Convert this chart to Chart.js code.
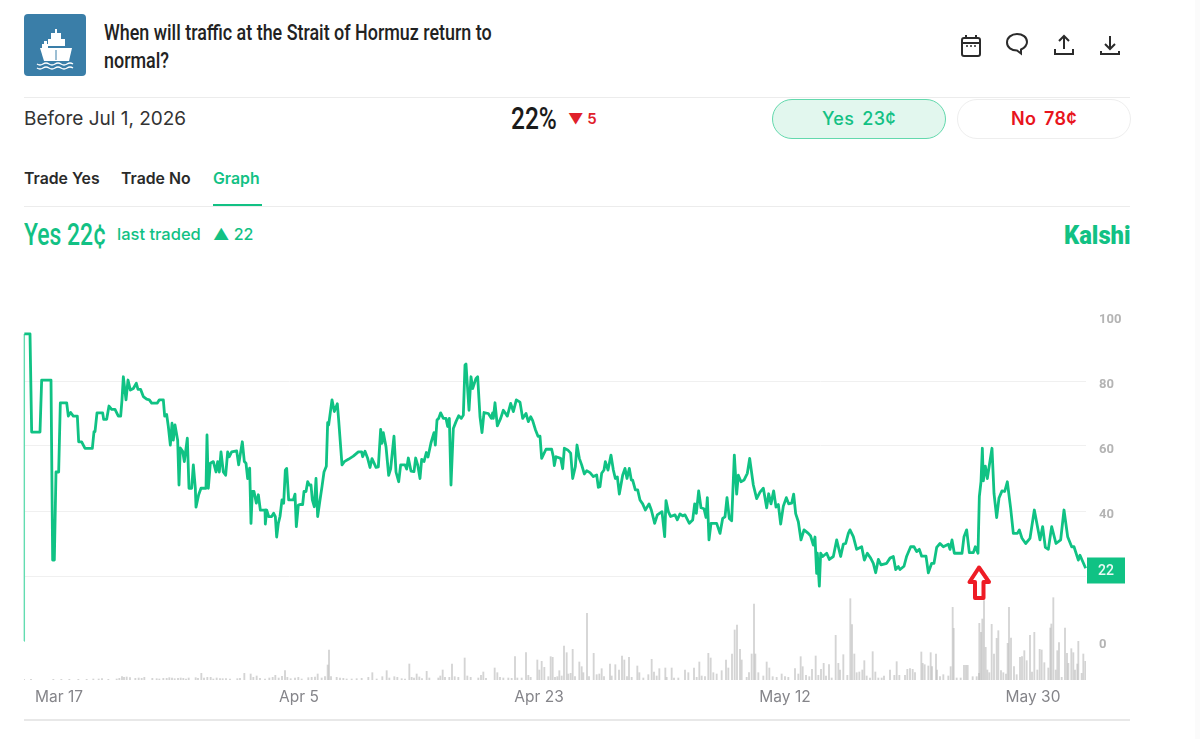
<!DOCTYPE html>
<html><head><meta charset="utf-8">
<script src="https://cdn.jsdelivr.net/npm/chart.js@4"></script>
<style>
html,body{margin:0;padding:0;background:#fff;width:1200px;height:739px;overflow:hidden}
body{font-family:Inter,Roboto,sans-serif;color:#222;position:relative}
.a{position:absolute;white-space:nowrap;line-height:1}
.c{font-family:Roboto,sans-serif;transform-origin:left center;display:block}
.rule{position:absolute;height:1px;background:#ececec;left:24px;width:1106px}
.pill{position:absolute;box-sizing:border-box;height:40px;width:174px;top:99px;border-radius:20px;text-align:center;font:500 18px/37px Inter,sans-serif;word-spacing:3px;letter-spacing:.3px}
canvas{position:absolute;left:0;top:300px}
</style></head><body>
<svg class="a" style="left:24px;top:14px" width="62" height="62" viewBox="0 0 62 62">
<rect width="62" height="62" rx="4" fill="#3a7ea8"/>
<g fill="#fff"><rect x="31" y="15" width="2" height="5"/><rect x="27" y="19" width="10" height="6"/><rect x="24" y="25" width="17" height="7"/><rect x="20" y="27" width="3" height="3"/><rect x="18" y="30" width="6" height="4"/>
<path d="M16 34H48L45 47H20Z"/></g><path d="M32 36V46" stroke="#3a7ea8" stroke-width="1"/>
<path d="M13 50q3 2 6 0t6 0t6 0t6 0t6 0t6 0M13 54q3 2 6 0t6 0t6 0t6 0t6 0t6 0" stroke="#fff" stroke-width="1.3" fill="none"/></svg>
<div class="a c" style="left:104px;top:22px;font-size:22px;font-weight:500;transform:scaleX(.814);color:#222">When will traffic at the Strait of Hormuz return to</div>
<div class="a c" style="left:104px;top:50px;font-size:22px;font-weight:500;transform:scaleX(.814);color:#222">normal?</div>
<svg class="a" style="left:958px;top:32px" width="165" height="28" viewBox="0 0 165 28" fill="none" stroke="#2b2b2b" stroke-width="2">
<rect x="4" y="6" width="18" height="18" rx="2"/><path d="M4 11H22M8 3V7M18 3V7"/><path d="M8 14h2M12 14h2M16 14h2" stroke-width="1.5"/>
<path d="M59 2c-5.500 0-10 3.500-10 8.500c0 5 4.500 8 10 8l4 3v-4c3-1.500 6-4 6-7.500c0-5-4.500-8-10-8z"/>
<path d="M106 17V4M101 9l5-5l5 5M97 17v5h18v-5"/><path d="M152 4V17M147 12l5 5l5-5M143 19v3h18v-3"/></svg>
<div class="rule" style="top:97px"></div>
<div class="a" style="left:24px;top:109px;font-size:19px;color:#333">Before Jul 1, 2026</div>
<div class="a c" style="left:511px;top:103px;font-size:31px;font-weight:500;transform:scaleX(.79);color:#1b1b1b">22%</div>
<div class="a" style="left:568px;top:111px;font-size:15px;font-weight:600;color:#e0202a">▼ 5</div>
<div class="pill" style="left:772px;background:#e2f7ee;border:1.500px solid #63d9ad;color:#12c184">Yes 23¢</div>
<div class="pill" style="left:957px;background:#fff;border:1.500px solid #eeeeee;color:#e8141c;font-weight:600">No 78¢</div>
<div class="a" style="left:24px;top:171px;font-size:15.800px;font-weight:600;color:#2a2a2a">Trade Yes</div>
<div class="a" style="left:121px;top:171px;font-size:15.800px;font-weight:600;color:#2a2a2a">Trade No</div>
<div class="a" style="left:213px;top:171px;font-size:15.800px;font-weight:600;color:#12c184">Graph</div>
<div class="a" style="left:213px;top:204px;width:49px;height:2px;background:#12c184"></div>
<div class="rule" style="top:206px"></div>
<div class="a c" style="left:24px;top:219px;font-size:31px;font-weight:500;transform:scaleX(.74);color:#12c184">Yes 22¢</div>
<div class="a" style="left:117px;top:226px;font-size:16.500px;font-weight:500;color:#12c184">last traded</div>
<div class="a" style="left:213px;top:226px;font-size:16px;font-weight:500;color:#12c184">▲ 22</div>
<div class="a c" style="left:1064px;top:222px;font-size:26px;font-weight:900;transform:scaleX(.915);color:#12c184">Kalshi</div>
<canvas id="chart" width="1200" height="420"></canvas>
<div class="rule" style="top:719px;height:2px;background:#e8e8e8"></div>
<svg class="a" style="left:966px;top:562px" width="28" height="42" viewBox="0 0 28 42"><path d="M13 5.500L3.500 20H9V36H17.500V20H23Z" fill="#fff" stroke="#ee1c25" stroke-width="4" stroke-linejoin="round"/></svg>
<div class="a" style="left:1195px;top:0;width:5px;height:739px;background:#fbfbfb"></div>
<script>
const axisDates=["Mar 17","Apr 5","Apr 23","May 12","May 30"];
const axisDateTicks=[177,897,1617,2355,3099];
const priceGrid=[20,40,60,80];
const priceLabels=[0,40,60,80,100];
const lastPrice=22;
const priceTicks=[
72,73,90,95,120,125,153,158,163,168,
176,181,200,205,212,220,232,236,245,255,
277,282,285,291,308,311,320,327,335,345,
355,362,366,370,378,384,391,400,409,414,
422,430,440,448,455,472,478,490,494,500,
505,511,516,520,525,533,537,541,548,553,
562,567,575,580,586,588,596,603,618,621,
625,631,640,648,653,658,663,670,677,683,
688,695,710,716,722,727,733,738,743,749,
753,757,762,769,775,781,795,796,800,806,
815,821,826,830,835,840,846,851,856,860,
866,880,885,889,895,
900,908,912,918,923,928,933,937,943,948,
953,960,966,972,979,983,986,996,1003,1012,
1016,1026,1033,1045,1060,1075,1085,1088,1095,1103,
1110,1116,1128,1135,1142,1146,1150,1158,1166,1172,
1182,1188,1196,1202,1215,1220,1225,1233,1242,1247,
1253,1260,1265,1272,1279,1284,1293,1302,1306,1311,
1316,1322,1330,1338,1343,1348,1353,1360,1368,1376,
1384,1390,1395,1398,1407,1413,1418,1428,1433,1440,
1446,1452,1465,1474,1478,1480,1485,1492,1502,1510,
1522,1532,1540,1549,1560,1568,1578,1585,1592,1598,
1606,1614,1620,1625,1638,1655,1660,1663,1668,1682,
1688,1693,1703,1712,1718,1726,1731,1738,1745,1753,
1760,1770,1780,1790,1795,
1800,1805,1812,1816,1824,1833,1840,1846,1852,1858,
1868,1875,1881,1888,1894,1898,1906,1913,1920,1928,
1936,1947,1954,1964,1972,1986,1994,1998,2005,2012,
2025,2032,2040,2048,2055,2068,2078,2084,2089,2096,
2103,2112,2118,2122,2127,2133,2150,2160,2168,2175,
2181,2188,2195,2203,2210,2215,2223,2232,2242,2249,
2260,2270,2280,2290,2300,2306,2313,2321,2328,2335,
2342,2350,2359,2366,2375,2381,2387,2395,2403,2412,
2425,2432,2440,2445,2450,2452,2458,2462,2468,2480,
2488,2500,2510,2522,2530,2537,2545,2550,2560,2570,
2585,2593,2602,2612,2620,2627,2635,2643,2660,2670,
2680,2687,2695,
2700,2712,2720,2732,2742,2750,2758,2765,2778,2785,
2795,2802,2810,2820,2830,2845,2850,2856,2863,2886,
2892,2900,2908,2920,2926,2934,2938,2943,2947,2950,
2956,2962,2968,2976,2982,2990,2997,3006,3014,3022,
3032,3040,3052,3058,3066,3077,3090,3103,3120,3128,
3136,3145,3155,3168,3182,3192,3203,3215,3222,3235,
3240,3257];
const priceCents=[
0,94.5,94.5,64.3,64.3,80.3,80.3,24.9,24.9,52,
52,73.3,73.3,69.2,70.3,69.2,69.2,61.3,61.3,59.3,
59.3,64.4,64.4,70.2,70.2,68.2,68.2,72.3,71.3,71.3,
69.2,69.2,74.2,81.3,74.2,80.3,77.2,77.7,79.3,77.4,
77.4,75.2,74.4,74.2,73.2,73.2,74.2,74.2,69.2,69.7,
66,60.3,67,61.8,66.5,61.8,48,59.4,58.4,55.2,
62.4,47,47,54.2,47,41.2,45,47,47,63.4,
47,54.7,55.2,52,55.2,52,58.2,52,51,58.2,
56.7,58.2,58.5,54.2,58.2,61.3,55.2,54.7,50,53.2,
36.2,46,46,42.4,45,40.3,40.3,36,40.3,38.3,
38.3,39.3,38.3,32,36.2,38.3,43.4,42.4,52.6,53.1,
43.4,43.4,45.2,35.2,41.8,
42,42,46,46,49,48,48,43.4,41.3,50,
38.3,43.4,47.5,52,53.8,67.2,66.5,74.2,70.6,73,
68,54.2,55.2,55.9,56.9,58.2,58.2,56.7,58.4,56.2,
53.4,56.1,53.4,53.6,65.1,60.8,64.1,59.8,51,53,
63,52,49,54.2,54.2,52.9,56.3,52.3,52.1,56.3,
54.2,50,55.9,55.2,58,56.6,61,64.1,60.3,68,
68.5,70.2,68.5,68.5,66,68.5,48,65.4,67.5,69.3,
68.5,69.5,84.9,85.2,71,81.3,77.7,80.8,81.3,69,
64.1,70.3,70,68.5,70.2,68.5,73.3,66.2,68.5,71,
69.2,73.1,70.6,74.2,73.5,68.5,70,67.5,69,67.8,
65.1,63,63,56.2,59,59,56.7,54,56.7,56.2,
53,59.3,58.8,57.8,50,53.6,60.3,56.2,54.2,51.4,
52.4,51.8,50.6,51.1,47.3,
47.5,51.6,52.6,55.2,52.6,57.2,52.6,50,50.5,45.2,
51,53.1,50,53.1,49.5,49.5,46.5,46.5,43.4,42.2,
40.3,42.2,40.3,36.2,38.8,39.8,32.1,43.2,39.8,38.3,
38.8,37.3,39.1,38.5,38.8,36.2,37.2,42.2,39.3,46.2,
41,40.7,38,44.1,31.1,36.2,36.2,33.1,37.7,38.2,
44.1,37.7,37,57.2,45.2,51,49,49.5,51.6,56.2,
48,43.8,45.8,47,41,45.3,42.2,46.2,41.2,42,
36,41.5,44.1,42.2,42.4,45.2,39.2,36.7,31.1,34.2,
33.1,32.3,29.5,32,20.8,27,16.9,27,26,27,
25.1,26,31.1,26,29.8,30,33.1,34.2,32.1,28.2,
29,24.9,27,25.5,23.9,21,25.1,23.4,23.9,25.5,
26,22,22.9,
22,23,26.1,29,29,27.5,28.2,26.1,26.1,21,
23.9,23.9,28.8,30,29,29.8,28.2,31.1,27,27,
32.1,34.2,27.2,27.2,29,27,44.4,49,59.3,49.3,
53.8,50,54.1,59.3,45.4,38,44,46.2,46,49,
40.8,33.1,33.1,34.2,31.6,30,31.6,40.3,31.1,35.2,
28.8,28.2,35.2,30,31.1,40.3,32.1,29,29,24.9,
26.4,22.4];
const volumeTicks=[
72,93,160,184,208,235,260,280,296,306,
325,350,358,366,372,380,390,406,416,425,
433,457,470,478,490,500,508,516,524,534,
542,550,558,566,587,594,604,612,622,632,
640,650,660,668,678,690,712,720,733,752,
760,770,780,795,808,818,826,836,846,855,
862,872,885,895,905,925,935,945,953,965,
975,983,987,993,1010,1020,1030,1040,1055,1070,
1085,1105,1117,1130,1147,1160,1168,1183,1192,
1205,1215,1228,1235,1242,1250,1258,1266,1280,1288,
1315,1321,1328,1335,1348,1356,1364,1375,1394,1402,
1412,1435,1443,1450,1458,1484,1492,1500,1510,1525,
1535,1545,1552,1565,1578,1585,1592,1612,1618,1625,
1633,1645,1652,1658,1665,1672,1678,1685,1692,1700,
1705,1712,1718,1725,1738,1745,1750,1761,1767,1781,
1790,1798,1805,1812,1830,1835,1846,1857,1866,1873,
1881,1887,1895,1912,1918,1930,1945,1955,1962,1970,
1978,1996,2000,2015,2022,2035,2055,2065,2082,2090,
2098,2105,2115,2125,2132,2140,2150,2165,2178,2185,
2196,2204,2211,2220,2225,2240,2247,2255,2262,2266,
2275,2290,2300,2308,2318,2330,2345,2355,2365,2385,2395,
2402,2408,2418,2428,2436,2447,2455,2463,2471,2478,
2487,2495,2507,2515,2520,2530,2542,2551,2556,2563,
2570,2578,2587,2593,2600,2610,2618,2626,2635,2645,
2652,2670,2683,2690,2698,2715,2722,2730,2738,2745,
2764,2768,2774,2785,2792,2796,2808,2811,2820,2830,
2845,2852,2858,2861,2870,2882,2892,2898,2903,2918,
2930,2937,2938,2943,2947,2952,2957,2962,2968,2975,
2982,2990,2995,3003,3010,3018,3023,3027,3033,3042,
3050,3060,3066,3073,3080,3090,3096,3103,3112,3119,
3125,3133,3145,3151,3154,3160,3167,3172,3177,3185,
3195,3201,3205,3214,3220,3225,3232,3235,3245,3250,3256];
const volumeContracts=[
2,2,2,2,2,2,2,3,3,4,
2,3,5,10,8,9,7,5,6,5,
8,5,4,3,5,5,7,6,4,5,
6,5,3,6,7,5,20,6,8,8,
3,6,4,4,4,3,4,5,20,18,
8,12,5,3,6,8,14,6,11,28,
8,4,6,8,3,7,8,9,18,6,
10,45,90,10,8,6,5,3,3,4,
5,8,22,3,10,28,6,10,8,
4,3,48,8,6,18,9,4,26,6,
6,12,30,8,8,48,10,8,66,12,
8,6,14,24,5,36,22,8,6,6,
5,70,6,6,82,14,8,60,30,56,
38,10,70,68,8,10,28,12,102,82,
18,20,92,10,54,40,22,200,10,80,
16,18,34,10,48,12,46,30,72,60,
10,68,8,42,22,6,16,62,24,12,
34,36,8,36,6,6,30,22,36,8,
54,12,10,80,66,22,18,28,60,36,
78,150,165,92,60,8,22,78,228,78,
22,12,54,36,10,8,18,10,8,34,18,
70,40,14,10,32,72,14,32,50,12,
46,6,134,50,30,76,14,244,166,78,
22,24,30,58,12,6,85,24,6,6,
12,30,14,55,14,14,32,34,32,22,
84,50,46,42,82,40,78,30,10,16,
12,40,218,155,6,6,44,44,44,10,
10,20,170,143,183,238,98,30,22,167,
78,125,148,28,22,18,110,218,126,40,
16,68,70,88,58,134,24,143,30,92,
90,52,36,156,168,247,30,88,112,8,
156,80,50,94,82,30,48,116,20,78,56];

const GREEN='#10c284';
const lastBox={id:'lastBox',afterDraw(c){
  const y=c.scales.y.getPixelForValue(lastPrice),x=c.chartArea.right+1,g=c.ctx;
  g.save();g.fillStyle=GREEN;g.fillRect(x,y-12,38,26);
  g.fillStyle='#eafaf4';g.font='500 14px Roboto, sans-serif';g.textAlign='center';g.textBaseline='middle';
  g.fillText(String(lastPrice),x+19,y+1.5);g.restore();
}};
new Chart(document.getElementById('chart'),{
  data:{datasets:[
    {type:'line',order:1,yAxisID:'y',clip:false,
     data:priceTicks.map((x,i)=>({x,y:priceCents[i]})),
     borderColor:GREEN,borderWidth:2.8,pointRadius:0,tension:0,borderJoinStyle:'round',
     segment:{borderColor:c=>c.p0DataIndex===0?'#62dcb0':undefined,borderWidth:c=>c.p0DataIndex===0?1.4:undefined}},
    {type:'bar',order:2,yAxisID:'yVol',
     data:volumeTicks.map((x,i)=>({x,y:volumeContracts[i]})),
     backgroundColor:'rgba(185,185,185,.62)',barThickness:1.2}
  ]},
  options:{
    responsive:false,animation:false,events:[],
    layout:{padding:{left:24,top:16,right:0,bottom:0}},
    plugins:{legend:{display:false},tooltip:{enabled:false}},
    scales:{
      x:{type:'linear',min:72,max:3258,offset:false,
        afterBuildTicks:s=>{s.ticks=axisDateTicks.map(value=>({value}))},
        afterFit:s=>{s.height=40;s.paddingLeft=0;s.paddingRight=0},
        grid:{display:false},border:{display:false},
        ticks:{autoSkip:false,maxRotation:0,padding:0,color:'#85858a',font:{family:'Inter',size:15.5},
          callback:v=>axisDates[axisDateTicks.indexOf(v)]}},
      y:{position:'right',min:-12,max:100,
        afterBuildTicks:s=>{s.ticks=priceGrid.map(value=>({value}))},
        afterFit:s=>{s.width=0;s.paddingTop=0;s.paddingBottom=0},
        grid:{color:'#f0f0f0',lineWidth:1,drawTicks:false},border:{display:false},
        ticks:{display:false}},
      yLabels:{position:'right',min:-11,max:101,
        afterBuildTicks:s=>{s.ticks=priceLabels.map(value=>({value}))},
        afterFit:s=>{s.width=114;s.paddingTop=0;s.paddingBottom=0},
        grid:{display:false},border:{display:false},
        ticks:{padding:5,color:'#b4b4b4',font:{family:'Roboto',size:13,weight:'700'},callback:v=>String(v)}},
      yVol:{display:false,min:0,max:1092}
    }
  },
  plugins:[lastBox]
});
</script>
</body></html>
